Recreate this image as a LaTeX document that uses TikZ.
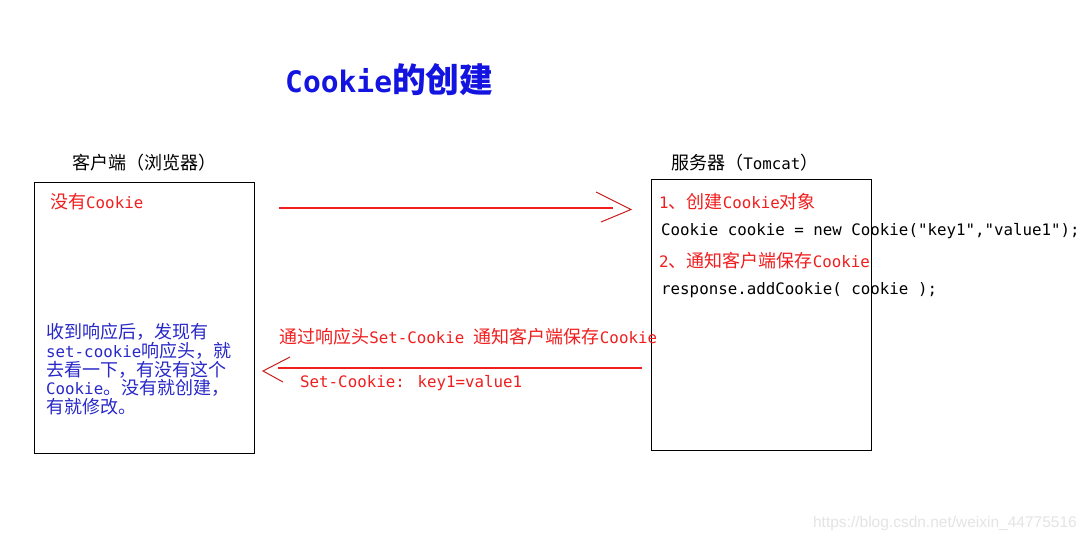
\documentclass[tikz,border=0pt]{standalone}
\usepackage{fontspec}
\setmainfont{DejaVu Sans Mono}[Ligatures=TeXOff]
\newfontfamily\cjk[Scale=1.14]{Noto Sans CJK SC}
\newfontfamily\wmfont{Liberation Sans}
\newcommand\zh[1]{{\cjk #1}}
\definecolor{cred}{RGB}{240,30,30}
\definecolor{cdarkred}{RGB}{200,30,30}
\definecolor{cblue}{RGB}{40,40,200}
\definecolor{ctitle}{RGB}{20,20,225}
\definecolor{cwm}{RGB}{228,228,228}
\begin{document}
\begin{tikzpicture}[x=1pt,y=-1pt,
  box/.style={draw=black, line width=1.3pt, minimum width=220pt, minimum height=271pt, anchor=north west, inner sep=0pt},
  txt/.style={inner sep=0pt, anchor=west, font=\fontsize{15.8}{19}\selectfont},
  redtxt/.style={txt, text=cred},
  redline/.style={draw=cred, line width=1.6pt},
  headline/.style={draw=cdarkred, line width=1pt}]
\useasboundingbox[fill=white] (0,0) rectangle (1087,541);
% boxes
\node[box] (client) at (34,182) {};
\node[box] (server) at (651,179) {};
% title
\node[txt, text=ctitle, font=\bfseries\fontsize{29.6}{34}\selectfont] (title) at (285,80) {Cookie\zh{的创建}};
% headings
\node[txt] (clientlbl) at (72,163) {\zh{客户端（浏览器）}};
\node[txt] (serverlbl) at (671,163) {\zh{服务器（}Tomcat\zh{）}};
% client text
\node[redtxt] (nocookie) at (50,202) {\zh{没有}Cookie};
\node[txt, text=cblue, anchor=north west, align=left, font=\fontsize{15.8}{18.8}\selectfont] (recv) at (46,323)
  {\zh{收到响应后，发现有}\\
   set-cookie\zh{响应头，就}\\
   \zh{去看一下，有没有这个}\\
   Cookie\zh{。没有就创建，}\\
   \zh{有就修改。}};
% server text
\node[redtxt] (s1) at (659,202) {1\zh{、创建}Cookie\zh{对象}};
\node[txt] (s2) at (661,231) {Cookie cookie = new Cookie("key1","value1");};
\node[redtxt] (s3) at (659,261) {2\zh{、通知客户端保存}Cookie};
\node[txt] (s4) at (661,290) {response.addCookie( cookie );};
% arrow labels
\node[redtxt] (resp) at (279,337) {\zh{通过响应头}Set-Cookie \zh{通知客户端保存}Cookie};
\node[redtxt] (setc) at (300,383) {Set-Cookie: key1=value1};
% arrows
\coordinate (a1s) at (279,208);
\coordinate (a1e) at (631,209.5);
\draw[redline, shorten >=18pt] (a1s) -- (a1e |- a1s);
\draw[headline] (596,192) -- (a1e) -- (601,222);
\coordinate (a2s) at (642,368);
\coordinate (a2e) at (263,371);
\draw[redline, shorten >=15pt] (a2s) -- (a2e |- a2s);
\draw[headline] (290,357) -- (a2e) -- (283,382);
% watermark
\node[inner sep=0pt, anchor=east, text=cwm, font=\wmfont\fontsize{15.5}{18}\selectfont] (wm) at (1077,523) {https://blog.csdn.net/weixin\_44775516};
\end{tikzpicture}
\end{document}
